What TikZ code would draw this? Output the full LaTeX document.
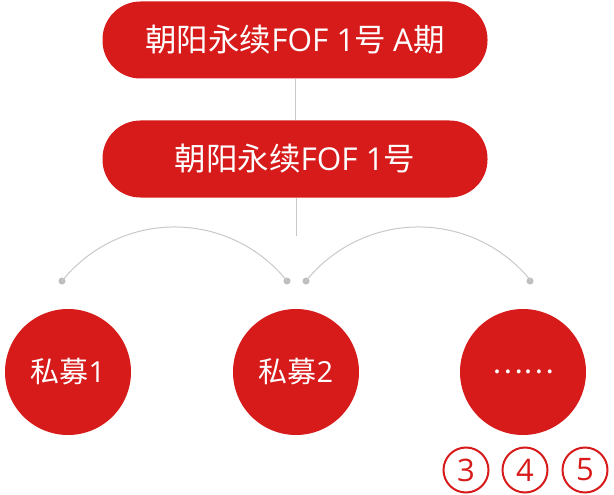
\documentclass[tikz,border=0pt]{standalone}
\usepackage{fontspec}
\setmainfont{Noto Sans CJK SC}
\newfontfamily\latinfont{Open Sans}
\newcommand{\lat}[1]{{\latinfont #1}}
\definecolor{fofred}{RGB}{215,26,26}
\definecolor{linegray}{RGB}{200,200,200}
\definecolor{dotgray}{RGB}{190,190,190}
\tikzset{
  pill/.style={fill=fofred, text=white, rounded corners=38pt, minimum width=385pt,
    minimum height=77pt, inner sep=0pt, font=\fontsize{31.5}{33}\selectfont},
  fund/.style={circle, fill=fofred, text=white, minimum size=126pt, inner sep=0pt,
    font=\fontsize{29}{30}\selectfont},
  numring/.style={circle, draw=fofred, line width=2pt, text=fofred, minimum size=45pt,
    inner sep=0pt, font=\fontsize{31}{31}\latinfont},
  dot/.style={circle, fill=dotgray, inner sep=0pt, minimum size=7pt},
  link/.style={draw=linegray, line width=1pt}
}

\begin{document}
\begin{tikzpicture}[x=1pt, y=-1pt]
  \useasboundingbox (0,0) rectangle (614,495);
  % the two funds on top
  \node[pill] (fofa) at (295,40) {朝阳永续\lat{FOF 1}号 \lat{A}期};
  \node[pill] (fof) at (295,159) {朝阳永续\lat{FOF 1}号};
  \draw[link] (fofa.south) -- (fof.north);
  \coordinate (stem) at (296,236);
  \draw[link] (fof.south -| stem) -- (stem);
  % dots and arcs
  \node[dot] (d1) at (62,281) {};
  \node[dot] (d2) at (287,281) {};
  \node[dot] (d3) at (306,281) {};
  \node[dot] (d4) at (530,281) {};
  \draw[link] (d1.center) arc[start angle=-141.3, end angle=-38.7, radius=144.2];
  \draw[link] (d3.center) arc[start angle=-141.3, end angle=-38.7, radius=144.2];
  % private funds
  \node[fund] (pf1) at (68,372) {私募\lat{1}};
  \node[fund] (pf2) at (296,372) {私募\lat{2}};
  \node[fund] (pfn) at (523,372) {……};
  \node[numring] (n3) at (466,470) {3};
  \node[numring] (n4) at (525,470) {4};
  \node[numring] (n5) at (585,470) {5};
\end{tikzpicture}
\end{document}
